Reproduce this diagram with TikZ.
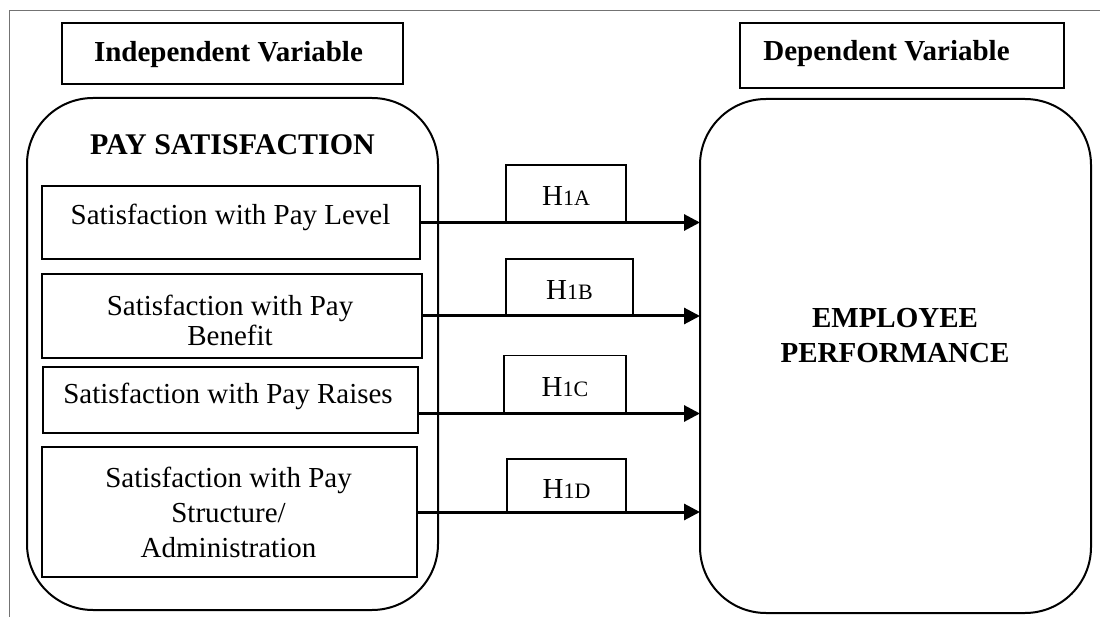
\documentclass[tikz,border=0pt]{standalone}
\usepackage{fontspec}
\setmainfont{Liberation Serif}
\usetikzlibrary{arrows.meta,calc}
\begin{document}
\begin{tikzpicture}[x=1pt,y=-1pt,
  every node/.style={font=\fontsize{29}{35}\selectfont, inner sep=0pt, outer sep=0pt},
  frame/.style={draw=black!55, line width=1pt},
  headbox/.style={draw, line width=2pt, rectangle},
  group/.style={draw, line width=2pt, rectangle, rounded corners=66pt},
  itembox/.style={draw, line width=2.6pt, rectangle},
  hbox/.style={draw, line width=1.2pt, rectangle},
  arr/.style={line width=3pt, -{Triangle[length=16pt,width=16pt]}},
  txt/.style={anchor=base},
  mtxt/.style={anchor=center, align=center}
]
\useasboundingbox (0,0) rectangle (1100,617);
% outer frame
\coordinate (fbl) at (9,617);
\coordinate (ftl) at (9,11);
\coordinate (ftr) at (1100,11);
\draw[frame] (fbl) -- (ftl) -- (ftr);

% headers
\node[headbox, minimum width=341pt, minimum height=61pt] (ivh) at (232.5,53.5) {};
\node[headbox, minimum width=324pt, minimum height=65pt] (dvh) at (902,55.5) {};
\node[txt] (ivht) at (228.5,62) {\bfseries Independent Variable};
\node[txt] (dvht) at (886.5,61) {\bfseries Dependent Variable};

% groups
\node[group, minimum width=411pt, minimum height=512pt] (iv) at (232.5,354) {};
\node[group, minimum width=391pt, minimum height=514pt] (dv) at (895.5,356) {};
\node[txt, font=\fontsize{30}{35}\selectfont] (ivt) at (232.5,155) {\bfseries PAY SATISFACTION};
\node[mtxt] (dvt) at (895,336) {\bfseries EMPLOYEE\\\bfseries PERFORMANCE};

% item boxes
\node[itembox, minimum width=378pt, minimum height=73pt] (b1) at (231,222.5) {};
\node[itembox, minimum width=380pt, minimum height=84pt] (b2) at (232,316) {};
\node[itembox, minimum width=375pt, minimum height=66pt] (b3) at (230.5,400) {};
\node[itembox, minimum width=375pt, minimum height=130pt] (b4) at (229.5,512) {};
\node[txt] (t1) at (230.5,225) {Satisfaction with Pay Level};
\node[mtxt, font=\fontsize{29}{30}\selectfont] (t2) at (230,320) {Satisfaction with Pay\\Benefit};
\node[txt] (t3) at (228,403) {Satisfaction with Pay Raises};
\node[mtxt] (t4) at (228.5,512) {Satisfaction with Pay\\Structure/\\Administration};

% hypothesis labels
\node[hbox, minimum width=120pt, minimum height=57pt] (h1a) at (566,193.5) {};
\node[hbox, minimum width=127pt, minimum height=56pt] (h1b) at (569.5,287) {};
\node[hbox, minimum width=122pt, minimum height=58pt] (h1c) at (565,384.5) {};
\node[hbox, minimum width=119pt, minimum height=54pt] (h1d) at (566.5,486) {};
\node[txt] (h1at) at (566,206) {H{\fontsize{22}{22}\selectfont 1A}};
\node[txt] (h1bt) at (569.5,300) {H{\fontsize{22}{22}\selectfont 1B}};
\node[txt] (h1ct) at (565,396) {H{\fontsize{22}{22}\selectfont 1C}};
\node[txt] (h1dt) at (566.5,498) {H{\fontsize{22}{22}\selectfont 1D}};

% arrows
\draw[arr] (b1.east) -- (b1.east -| dv.west);
\draw[arr] (b2.east) -- (b2.east -| dv.west);
\draw[arr] ([yshift=-13.5pt]b3.east) -- ([yshift=-13.5pt]b3.east -| dv.west);
\draw[arr] (b4.east) -- (b4.east -| dv.west);
\end{tikzpicture}
\end{document}
